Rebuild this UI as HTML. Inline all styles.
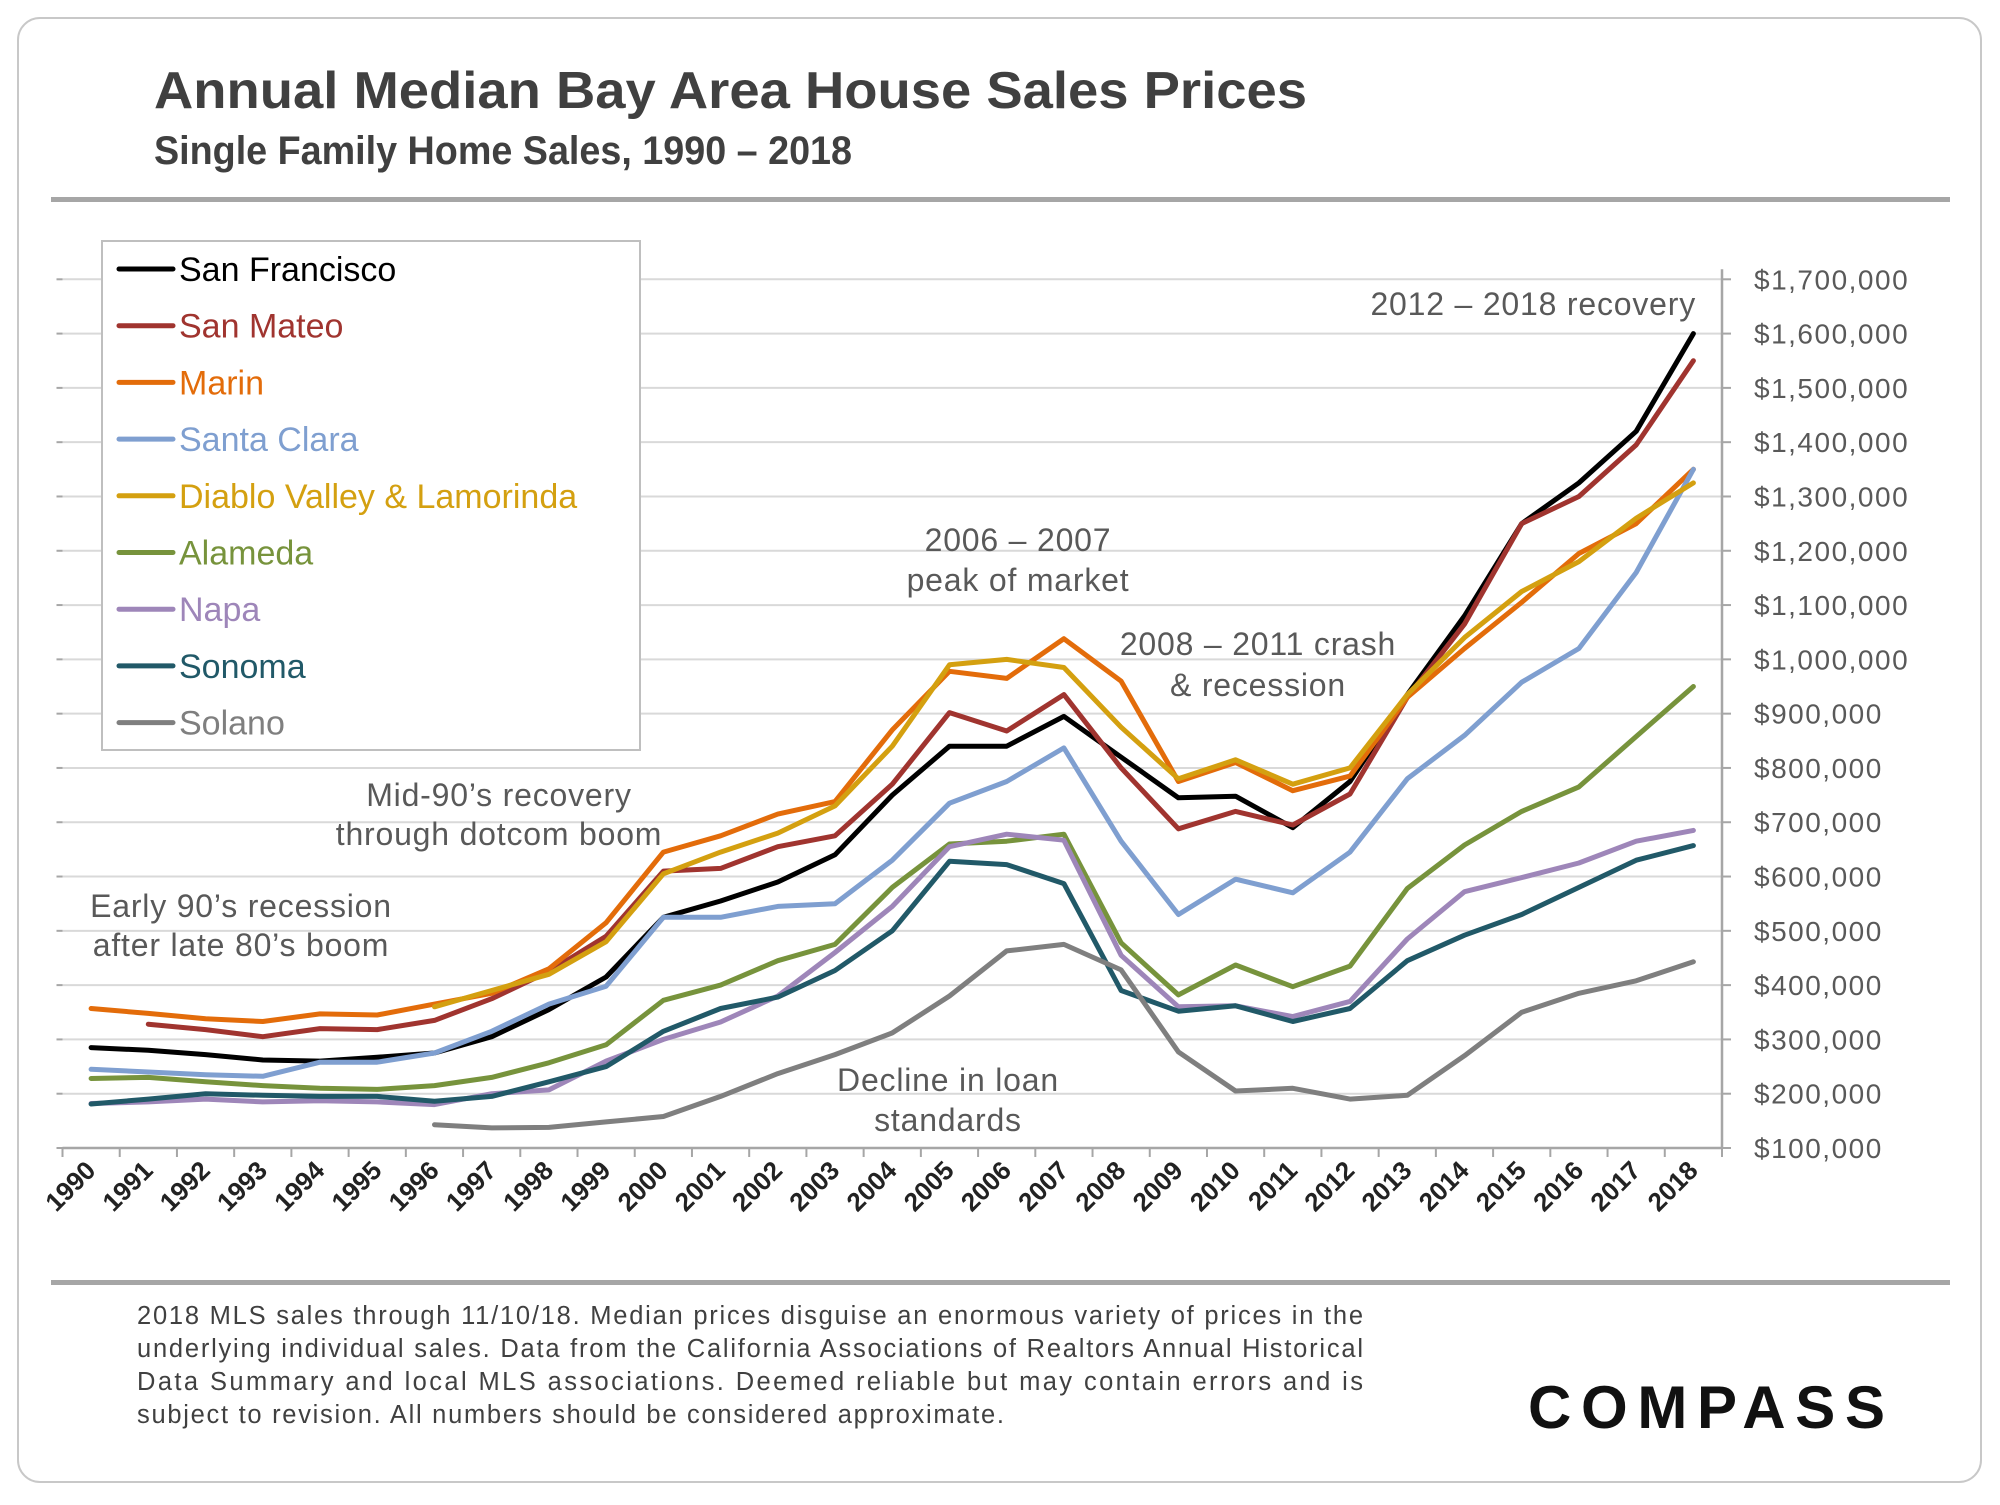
<!DOCTYPE html>
<html><head><meta charset="utf-8">
<style>
html,body{margin:0;padding:0;background:#fff;}
body{width:2000px;height:1500px;overflow:hidden;position:relative;font-family:"Liberation Sans",sans-serif;}
svg text{font-family:"Liberation Sans",sans-serif;}
</style></head>
<body>
<svg id="chart" width="2000" height="1500" viewBox="0 0 2000 1500" xmlns="http://www.w3.org/2000/svg">
  <rect x="18" y="18" width="1963" height="1464" rx="22" fill="#fff" stroke="#c8c8c8" stroke-width="2"/>
  <text x="154" y="108" font-size="52" font-weight="bold" fill="#404040" textLength="1153" lengthAdjust="spacingAndGlyphs">Annual Median Bay Area House Sales Prices</text>
  <text x="154" y="164" font-size="40" font-weight="bold" fill="#404040" textLength="698" lengthAdjust="spacingAndGlyphs">Single Family Home Sales, 1990 – 2018</text>
  <rect x="51" y="197" width="1899" height="5" fill="#a6a6a6"/>
  <rect x="51" y="1280" width="1899" height="5" fill="#a6a6a6"/>
  <g id="grid"></g>
  <g id="axes"></g>
  <g id="series"></g>
  <g id="legend"></g>
  <g font-size="32" fill="#595959" text-anchor="middle" letter-spacing="0.8">
    <text x="1696" y="315" text-anchor="end">2012 – 2018 recovery</text>
    <text x="1018" y="551">2006 – 2007</text>
    <text x="1018" y="591">peak of market</text>
    <text x="1258" y="655">2008 – 2011 crash</text>
    <text x="1258" y="696">&amp; recession</text>
    <text x="499" y="806">Mid-90’s recovery</text>
    <text x="499" y="845">through dotcom boom</text>
    <text x="241" y="917">Early 90’s recession</text>
    <text x="241" y="956">after late 80’s boom</text>
    <text x="948" y="1091">Decline in loan</text>
    <text x="948" y="1131">standards</text>
  </g>
  <g font-size="25.5" fill="#404040">
    <text x="137" y="1324" textLength="1226" lengthAdjust="spacing">2018 MLS sales through 11/10/18. Median prices disguise an enormous variety of prices in the</text>
    <text x="137" y="1357" textLength="1226" lengthAdjust="spacing">underlying individual sales. Data from the California Associations of Realtors Annual Historical</text>
    <text x="137" y="1390" textLength="1226" lengthAdjust="spacing">Data Summary and local MLS associations.  Deemed reliable but may contain errors and is</text>
    <text x="137" y="1423" textLength="867" lengthAdjust="spacing">subject to revision. All numbers should be considered approximate.</text>
  </g>
  <text x="1528" y="1428" font-size="60" font-weight="bold" fill="#111" letter-spacing="8" textLength="365" lengthAdjust="spacing">COMPASS</text>
</svg>
<script>
const years = [1990,1991,1992,1993,1994,1995,1996,1997,1998,1999,2000,2001,2002,2003,2004,2005,2006,2007,2008,2009,2010,2011,2012,2013,2014,2015,2016,2017,2018];
const yTicks = [100000,200000,300000,400000,500000,600000,700000,800000,900000,1000000,1100000,1200000,1300000,1400000,1500000,1600000,1700000];
const seriesNames = ["San Francisco","San Mateo","Marin","Santa Clara","Diablo Valley & Lamorinda","Alameda","Napa","Sonoma","Solano"];
const seriesColors = ["#000000","#a0342f","#e36c0a","#7f9fd0","#d4a010","#77933c","#9e86b9","#215968","#7f7f7f"];
const sanFrancisco = [285,280,272,262,260,267,275,305,355,415,525,555,590,640,750,840,840,895,820,745,748,690,775,935,1080,1250,1325,1420,1600];
const sanMateo = [null,328,318,305,320,318,335,375,425,490,610,615,655,675,770,902,868,935,800,688,720,695,752,930,1065,1250,1300,1395,1550];
const marin = [357,348,338,333,347,345,365,385,430,515,645,675,715,738,870,978,965,1038,960,775,810,758,785,930,1020,1105,1195,1250,1350];
const santaClara = [245,240,235,232,258,258,275,315,365,398,525,525,545,550,630,735,775,837,665,530,595,570,645,780,860,958,1020,1160,1350];
const diablo = [null,null,null,null,null,null,360,390,420,480,605,645,680,730,840,990,1000,985,875,780,815,770,800,935,1040,1125,1180,1260,1325];
const alameda = [228,230,222,215,210,208,215,230,257,290,372,400,445,475,580,660,665,678,478,382,437,397,435,578,658,720,765,858,950];
const napa = [182,185,190,185,187,185,180,200,207,260,300,332,380,460,545,655,678,667,455,360,362,342,370,485,572,598,625,665,685];
const sonoma = [181,190,200,197,195,195,186,195,222,250,315,357,378,427,500,628,622,587,390,352,362,333,357,445,492,530,580,630,657];
const solano = [null,null,null,null,null,null,143,137,138,148,158,195,237,272,312,380,463,475,428,277,205,210,190,197,270,350,385,408,443];
const seriesData = [sanFrancisco,sanMateo,marin,santaClara,diablo,alameda,napa,sonoma,solano];

const NS = "http://www.w3.org/2000/svg";
const plotL = 62.5, plotR = 1722, plotT = 279.3, plotB = 1148;
const yMin = 100000, yMax = 1700000;
const band = (plotR - plotL) / years.length;
function xScale(i){ return plotL + band * (i + 0.5); }
function yScale(v){ return plotB - (v - yMin) / (yMax - yMin) * (plotB - plotT); }
function mk(tag, attrs, parent){ const e = document.createElementNS(NS, tag); for (const k in attrs) e.setAttribute(k, attrs[k]); parent.appendChild(e); return e; }

const grid = document.getElementById('grid');
const axes = document.getElementById('axes');
yTicks.forEach((t, i) => {
  const y = yScale(t);
  if (t > yMin) {
    const g = mk('line', {x1: plotL, x2: plotR, y1: y, y2: y, stroke: '#d9d9d9', 'stroke-width': 2}, grid);
    
    
  }
  const tk = mk('line', {x1: plotL - 6, x2: plotL, y1: y, y2: y, stroke: '#a6a6a6', 'stroke-width': 2}, axes);
  
  
  const tk2 = mk('line', {x1: plotR, x2: plotR + 9, y1: y, y2: y, stroke: '#a6a6a6', 'stroke-width': 2}, axes);
  
  
  const lbl = mk('text', {x: 1754, y: y + 10, 'font-size': 28, fill: '#595959', 'letter-spacing': 1.5}, axes);
  lbl.textContent = '$' + t.toLocaleString('en-US');
  
  
});
const ax = mk('line', {x1: plotL, x2: plotR, y1: plotB, y2: plotB, stroke: '#a6a6a6', 'stroke-width': 2.5}, axes);


const ry = mk('line', {x1: plotR, x2: plotR, y1: plotT - 10, y2: plotB, stroke: '#a6a6a6', 'stroke-width': 2.5}, axes);


for (let i = 0; i <= years.length; i++) {
  const x = plotL + band * i;
  const t = mk('line', {x1: x, x2: x, y1: plotB, y2: plotB + 9, stroke: '#a6a6a6', 'stroke-width': 2}, axes);
  
  
}
years.forEach((yr, i) => {
  const x = xScale(i) + 6, y = plotB + 24;
  const l = mk('text', {x: x, y: y, 'font-size': 26, 'font-weight': 'bold', fill: '#222', 'text-anchor': 'end', transform: `rotate(-45 ${x} ${y})`}, axes);
  l.textContent = yr;
  
  
});

const sg = document.getElementById('series');
seriesData.forEach((arr, s) => {
  let d = '';
  let started = false;
  arr.forEach((v, i) => {
    if (v === null) return;
    d += (started ? 'L' : 'M') + xScale(i).toFixed(1) + ',' + yScale(v * 1000).toFixed(1);
    started = true;
  });
  const p = mk('path', {d: d, fill: 'none', stroke: seriesColors[s], 'stroke-width': 5, 'stroke-linejoin': 'round', 'stroke-linecap': 'round'}, sg);
  
  
});

const lg = document.getElementById('legend');
const box = mk('rect', {x: 102, y: 241, width: 538, height: 509, fill: '#fff', stroke: '#bfbfbf', 'stroke-width': 2}, lg);


seriesNames.forEach((n, s) => {
  const y = 269 + s * 56.7;
  const ln = mk('line', {x1: 119, x2: 173, y1: y, y2: y, stroke: seriesColors[s], 'stroke-width': 5, 'stroke-linecap': 'round'}, lg);
  
  
  const tx = mk('text', {x: 179, y: y + 12, 'font-size': 34, fill: seriesColors[s]}, lg);
  tx.textContent = n;
  
  
});
</script>
</body></html>
